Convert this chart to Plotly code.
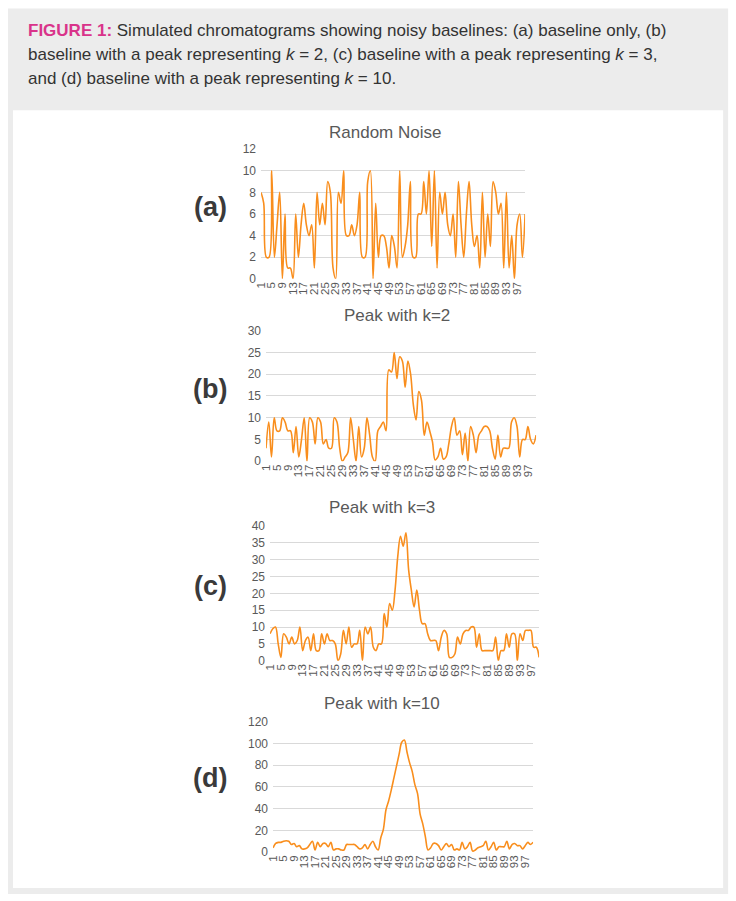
import plotly.graph_objects as go

W, H = 736, 901

points = list(range(1, 101))
x_tick_labels = list(range(1, 101, 4))

noise_a = [8, 7, 2, 2, 10, 2, 5, 8, 0, 6, 1, 1, 0, 6, 2, 5, 7, 5, 4, 5,
           1, 8, 5, 7, 5, 9, 8, 1, 0, 8, 7, 10, 4, 4, 5, 4, 5, 8, 2, 2,
           9, 10, 0, 7, 2, 4, 4, 3, 1, 4, 3, 1, 10, 2, 3, 5, 9, 2, 2, 6,
           6, 9, 6, 10, 3, 10, 1, 8, 6, 8, 5, 4, 6, 2, 9, 5, 2, 6, 9, 5,
           3, 4, 1, 8, 2, 6, 3, 9, 8, 6, 7, 1, 8, 1, 4, 0, 5, 6, 2, 6]

peak_k2 = [3, 9, 1, 10, 7, 7, 10, 9, 7, 7, 2, 8, 1, 5, 10, 0, 10, 9, 4, 10,
           9, 4, 5, 3, 3, 10, 9, 3, 0, 1, 2, 10, 5, 0, 8, 1, 3, 10, 6, 1,
           0, 7, 8, 9, 7, 21, 20.5, 25, 19, 24, 23, 17, 23, 20, 13, 9.5, 16, 14, 6, 9,
           7, 4.5, 0.3, 1, 3, 0.5, 1, 4, 8, 10, 6, 7, 1.5, 6.5, 0, 8, 6, 2, 6, 7,
           8, 8, 7, 3, 0.5, 6, 1, 3, 3, 3, 9, 10, 8, 1, 5, 5, 8, 5, 4, 6]

peak_k3 = [8, 9.5, 10, 5, 1, 8, 7, 5, 7, 5, 6, 10, 3, 6, 7, 3, 8, 3, 3, 8,
           5, 8, 6, 6, 5, 0, 2, 9, 5, 10, 4, 5, 5, 9, 0, 10, 8, 10, 4, 3,
           5, 5, 14, 10, 17, 15, 21, 31, 37, 34, 38, 27, 21, 16, 21, 15, 11, 11, 8, 6,
           6, 6, 3, 7, 9, 8, 1, 1, 2, 7, 5, 8, 9, 9, 10, 10, 4, 8, 3, 3,
           3, 3, 3, 7, 0, 3, 3, 8, 4, 8, 8, 0, 8, 6, 9, 9, 9, 4, 4, 1]

peak_k10 = [4, 8, 9, 9, 10, 10.5, 10, 7, 8, 5, 6, 3, 3, 4, 7, 10, 2, 9, 5, 8,
            8, 5, 9, 2, 3, 3, 2, 2, 7, 7, 7, 7, 5, 3, 4, 7, 3, 7, 10, 5,
            2, 13, 21, 39, 47, 57, 68, 79, 90, 101, 103, 92, 82, 74, 62, 54, 35, 26, 14, 2,
            4, 8, 8, 6, 2, 5, 8, 5, 7, 2, 3, 2, 9, 3, 5, 9, 1, 2, 4, 5,
            6, 10, 2, 5, 9, 2, 5, 5, 5, 10, 3, 7, 8, 6, 6, 3, 6, 9, 7, 9]

titles = ["Random Noise", "Peak with k=2", "Peak with k=3", "Peak with k=10"]
panel_labels = ["(a)", "(b)", "(c)", "(d)"]
y_ticks = [list(range(0, 13, 2)), list(range(0, 31, 5)), list(range(0, 41, 5)), list(range(0, 121, 20))]
y_max = [12, 30, 40, 120]
series = [noise_a, peak_k2, peak_k3, peak_k10]

# pixel geometry in the target picture (x_left, x_right for points 1..100; y of 0 and y of max)
geo = [
    (261, 525, 277, 147),
    (266, 536, 460, 329),
    (270, 539, 660, 525),
    (273, 533, 852, 721),
]
title_pos = [(385, 130), (397, 314), (382, 506), (382, 703)]
label_pos = [(210, 205), (210, 387), (210, 585), (210, 778)]

# compensation for the observed offset/scale of the rendered page
AX, SX = 6.0, 0.9917
AY, SY = 4.4, 0.9873

def px(x):
    return min(max((x - AX) / SX / W, 0), 1)

def py(y):
    return min(max(1 - ((y - AY) / SY) / H, 0), 1)

FONT = "Liberation Sans, Arial, sans-serif"
ORANGE = "#f98e1d"
GRID = "#d9d9d9"
TXT = "#595959"

fig = go.Figure()
layout_axes = {}
annotations = []

for i in range(4):
    xl, xr, y0, ym = geo[i]
    xa = "x" if i == 0 else f"x{i+1}"
    ya = "y" if i == 0 else f"y{i+1}"
    fig.add_trace(go.Scatter(
        x=points, y=series[i], mode="lines",
        line=dict(color=ORANGE, width=1.6, shape="spline", smoothing=1.0),
        xaxis=xa, yaxis=ya, showlegend=False, hoverinfo="x+y"))
    xkey = "xaxis" if i == 0 else f"xaxis{i+1}"
    ykey = "yaxis" if i == 0 else f"yaxis{i+1}"
    layout_axes[xkey] = dict(
        domain=[px(xl), px(xr)], range=[1, 100], anchor=ya,
        tickmode="array", tickvals=x_tick_labels, ticktext=[str(v) for v in x_tick_labels],
        tickangle=-90, tickfont=dict(family=FONT, size=11.5, color=TXT),
        showgrid=False, zeroline=False, showline=False, ticks="", ticklen=0,
        fixedrange=True)
    layout_axes[ykey] = dict(
        domain=[py(y0), py(ym)], range=[0, y_max[i]], anchor=xa,
        tickmode="array", tickvals=y_ticks[i],
        tickfont=dict(family=FONT, size=12, color=TXT), ticklabelstandoff=4,
        showgrid=True, gridcolor=GRID, gridwidth=1, zeroline=False,
        showline=False, ticks="", fixedrange=True)
    tx, ty = title_pos[i]
    annotations.append(dict(
        x=px(tx), y=py(ty), xref="paper", yref="paper", text=titles[i],
        showarrow=False, xanchor="center", yanchor="middle",
        font=dict(family=FONT, size=17, color=TXT)))
    lx, ly = label_pos[i]
    annotations.append(dict(
        x=px(lx), y=py(ly), xref="paper", yref="paper", text=f"<b>{panel_labels[i]}</b>",
        showarrow=False, xanchor="center", yanchor="middle",
        font=dict(family=FONT, size=27, color="#3a3a3a")))

caption_lines = [
    "<b><span style='color:#d9338a'>FIGURE 1:</span></b> Simulated chromatograms showing noisy baselines: (a) baseline only, (b)",
    "baseline with a peak representing <i>k</i> = 2, (c) baseline with a peak representing <i>k</i> = 3,",
    "and (d) baseline with a peak representing <i>k</i> = 10.",
]
for j, line in enumerate(caption_lines):
    annotations.append(dict(
        x=px(26), y=py(28 + 24 * j), xref="paper", yref="paper", text=line,
        showarrow=False, xanchor="left", yanchor="middle",
        font=dict(family=FONT, size=17, color="#333333")))

shapes = [
    dict(type="rect", xref="paper", yref="paper", x0=px(8), x1=px(728), y0=py(894), y1=py(6),
         fillcolor="#ececec", line=dict(width=0), layer="below"),
    dict(type="rect", xref="paper", yref="paper", x0=px(13), x1=px(723), y0=py(888), y1=py(108),
         fillcolor="#ffffff", line=dict(width=0), layer="below"),
]

fig.update_layout(
    width=W, height=H, margin=dict(l=0, r=0, t=0, b=0),
    paper_bgcolor="#ffffff", plot_bgcolor="rgba(0,0,0,0)",
    annotations=annotations, shapes=shapes, showlegend=False,
    **layout_axes)

fig.write_html(
    "out.html",
    config={"displayModeBar": False, "responsive": False},
    post_script=("document.documentElement.style.margin='0px';"
                 "document.documentElement.style.overflow='hidden';"
                 "document.body.style.margin='0px';document.body.style.padding='0px';"
                 "document.body.style.overflow='hidden';"))
